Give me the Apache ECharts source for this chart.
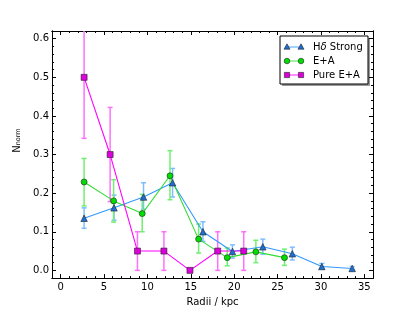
<!DOCTYPE html>
<html>
<head>
<meta charset="utf-8">
<script src="https://cdn.jsdelivr.net/npm/echarts@6/dist/echarts.min.js"></script>
<style>
html,body{margin:0;padding:0;background:#fff;}
#chart{width:415px;height:312px;}
</style>
</head>
<body>
<div id="chart"></div>
<script>
// ---- data ----
const hdX  = [2.7, 6.15, 9.55, 12.9, 16.4, 19.8, 23.3, 26.7, 30.1, 33.6];
const hdY  = [0.135, 0.162, 0.19, 0.227, 0.1, 0.049, 0.061, 0.043, 0.01, 0.005];
const hdLo = [0.109, 0.13, 0.158, 0.19, 0.075, 0.032, 0.042, 0.027, 0.004, 0.0];
const hdHi = [0.162, 0.195, 0.227, 0.264, 0.126, 0.066, 0.081, 0.06, 0.018, 0.01];

const eaX  = [2.7, 6.1, 9.4, 12.6, 15.9, 19.2, 22.5, 25.8];
const eaY  = [0.229, 0.18, 0.147, 0.245, 0.081, 0.033, 0.048, 0.033];
const eaLo = [0.167, 0.125, 0.1, 0.183, 0.045, 0.012, 0.02, 0.013];
const eaHi = [0.29, 0.235, 0.197, 0.31, 0.12, 0.058, 0.078, 0.055];

const peX  = [2.7, 5.7, 8.85, 11.9, 14.9, 18.1, 21.1];
const peY  = [0.5, 0.3, 0.05, 0.05, 0.0, 0.05, 0.05];
const peLo = [0.342, 0.178, 0, 0, 0, 0, 0];
const peHi = [0.658, 0.422, 0.1, 0.1, 0, 0.1, 0.1];

const xMajor = [0, 5, 10, 15, 20, 25, 30, 35];
const xMinor = [];
for (let v = 0; v <= 36; v++) xMinor.push(v);
const yMajor = [0, 0.1, 0.2, 0.3, 0.4, 0.5, 0.6];
const yMinor = [];
for (let k = -1; k <= 31; k++) yMinor.push(+(k * 0.02).toFixed(2));

const names = ['Hδ Strong', 'E+A', 'Pure E+A'];

// ---- chart ----
const chart = echarts.init(document.getElementById('chart'), null, {renderer: 'canvas'});
const FONT = 'DejaVu Sans';
const axisCommon = {type: 'value', gridIndex: 0, splitLine: {show: false}};

function xAx(pos, ticks, len, labels) {
  return Object.assign({}, axisCommon, {
    position: pos, min: -1, max: 36,
    axisLine: {show: true, onZero: false, lineStyle: {color: '#000', width: 1}},
    axisTick: {show: true, inside: true, length: len, customValues: ticks, lineStyle: {color: '#000', width: 1}},
    axisLabel: labels ? {show: true, customValues: ticks, color: '#000', fontSize: 10, fontFamily: FONT, margin: 4,
      formatter: v => String(v)} : {show: false}
  });
}
function yAx(pos, ticks, len, labels) {
  return Object.assign({}, axisCommon, {
    position: pos, min: -0.02, max: 0.62,
    axisLine: {show: true, onZero: false, lineStyle: {color: '#000', width: 1}},
    axisTick: {show: true, inside: true, length: len, customValues: ticks, lineStyle: {color: '#000', width: 1}},
    axisLabel: labels ? {show: true, customValues: ticks, color: '#000', fontSize: 10, fontFamily: FONT, margin: 3,
      formatter: v => v.toFixed(1)} : {show: false}
  });
}

const xMain = xAx('bottom', xMajor, 4, true);
xMain.name = 'Radii / kpc';
xMain.nameLocation = 'middle';
xMain.nameGap = 13;
xMain.nameTextStyle = {color: '#000', fontSize: 10, fontFamily: FONT, verticalAlign: 'top'};

const yMain = yAx('left', yMajor, 4, true);
yMain.name = 'N{s|norm}';
yMain.nameLocation = 'middle';
yMain.nameRotate = 90;
yMain.nameGap = 21;
yMain.nameTextStyle = {color: '#000', fontSize: 10, fontFamily: FONT, padding: [0, 0, 0, 28],
  rich: {s: {fontSize: 6.5, fontFamily: FONT, color: '#000', verticalAlign: 'bottom'}}};

function errSeries(xs, lo, hi, color) {
  return {
    type: 'custom', xAxisIndex: 0, yAxisIndex: 0, clip: true, silent: true, z: 3,
    data: xs.map((x, i) => [x, lo[i], hi[i]]),
    renderItem: function (params, api) {
      const x = api.value(0), l = api.value(1), h = api.value(2);
      const p1 = api.coord([x, l]), p2 = api.coord([x, h]);
      const w = 2.5;
      const st = {stroke: color, lineWidth: 1.5};
      return {type: 'group', children: [
        {type: 'line', shape: {x1: p1[0], y1: p1[1], x2: p2[0], y2: p2[1]}, style: st},
        {type: 'line', shape: {x1: p1[0] - w, y1: p1[1], x2: p1[0] + w, y2: p1[1]}, style: st},
        {type: 'line', shape: {x1: p2[0] - w, y1: p2[1], x2: p2[0] + w, y2: p2[1]}, style: st}
      ]};
    }
  };
}
function lineSeries(name, xs, ys, lineColor, fill, symbol, size) {
  return {
    type: 'line', name: name, xAxisIndex: 0, yAxisIndex: 0, z: 4,
    data: xs.map((x, i) => [x, ys[i]]),
    symbol: symbol, symbolSize: size, showSymbol: true, animation: false,
    lineStyle: {color: lineColor, width: 1.1},
    itemStyle: {color: fill, borderColor: '#222', borderWidth: 0.6},
    emphasis: {disabled: true}
  };
}

const C = {
  hd: {line: '#3399ff', fill: '#1e6fd0', err: '#7fbdff'},
  ea: {line: '#33dd33', fill: '#00dd00', err: '#70f070'},
  pe: {line: '#ff00ff', fill: '#dd00dd', err: '#ff70ff'}
};

// legend drawn as graphic
const LX = 280, LY = 36, LW = 88, LH = 48;
const rowY = [LY + 11, LY + 25, LY + 39];
const lx1 = 287, lx2 = 301, tx = 313;
function tri(cx, cy, fill) {
  return {type: 'polygon', shape: {points: [[cx, cy - 3.2], [cx - 3, cy + 2.2], [cx + 3, cy + 2.2]]},
    style: {fill: fill, stroke: '#222', lineWidth: 0.6}};
}
function circ(cx, cy, fill) {
  return {type: 'circle', shape: {cx: cx, cy: cy, r: 2.8}, style: {fill: fill, stroke: '#222', lineWidth: 0.6}};
}
function sq(cx, cy, fill) {
  return {type: 'rect', shape: {x: cx - 2.6, y: cy - 2.6, width: 5.2, height: 5.2}, style: {fill: fill, stroke: '#222', lineWidth: 0.6}};
}
function legLine(y, color) {
  return {type: 'line', shape: {x1: lx1, y1: y, x2: lx2, y2: y}, style: {stroke: color, lineWidth: 1.5, opacity: 0.6}};
}
const legendEls = [
  {type: 'rect', shape: {x: LX + 2, y: LY + 2, width: LW, height: LH}, style: {fill: '#999'}},
  {type: 'rect', shape: {x: LX, y: LY, width: LW, height: LH}, style: {fill: '#fff', stroke: '#000', lineWidth: 1}},
  legLine(rowY[0], C.hd.line), tri(lx1, rowY[0], C.hd.fill), tri(lx2, rowY[0], C.hd.fill),
  legLine(rowY[1], C.ea.line), circ(lx1, rowY[1], C.ea.fill), circ(lx2, rowY[1], C.ea.fill),
  legLine(rowY[2], C.pe.line), sq(lx1, rowY[2], C.pe.fill), sq(lx2, rowY[2], C.pe.fill),
  {type: 'text', x: tx, y: rowY[0], style: {text: 'H{i|δ} Strong', fill: '#000', fontSize: 10, fontFamily: FONT,
    verticalAlign: 'middle', rich: {i: {fontStyle: 'italic', fontSize: 10, fontFamily: FONT, fill: '#000'}}}},
  {type: 'text', x: tx, y: rowY[1], style: {text: names[1], fill: '#000', fontSize: 10, fontFamily: FONT, verticalAlign: 'middle'}},
  {type: 'text', x: tx, y: rowY[2], style: {text: names[2], fill: '#000', fontSize: 10, fontFamily: FONT, verticalAlign: 'middle'}}
];

chart.setOption({
  backgroundColor: '#fff',
  animation: false,
  textStyle: {fontFamily: FONT},
  grid: {left: 52, top: 31, width: 321, height: 250, containLabel: false},
  xAxis: [xMain, xAx('bottom', xMinor, 2, false), xAx('top', xMajor, 4, false), xAx('top', xMinor, 2, false)],
  yAxis: [yMain, yAx('left', yMinor, 2, false), yAx('right', yMajor, 4, false), yAx('right', yMinor, 2, false)],
  series: [
    lineSeries(names[0], hdX, hdY, C.hd.line, C.hd.fill, 'triangle', 6.5),
    errSeries(hdX, hdLo, hdHi, C.hd.err),
    lineSeries(names[1], eaX, eaY, C.ea.line, C.ea.fill, 'circle', 6),
    errSeries(eaX, eaLo, eaHi, C.ea.err),
    lineSeries(names[2], peX, peY, C.pe.line, C.pe.fill, 'rect', 6),
    errSeries(peX, peLo, peHi, C.pe.err)
  ],
  graphic: legendEls
});
</script>
</body>
</html>
